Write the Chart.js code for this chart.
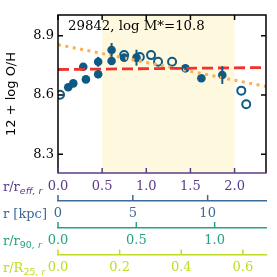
<!DOCTYPE html>
<html>
<head>
<meta charset="utf-8">
<script src="https://cdn.jsdelivr.net/npm/chart.js@4.4.0/dist/chart.umd.min.js"></script>
<style>
html, body { margin: 0; padding: 0; background: #fff; }
#wrap { width: 277px; height: 277px; }
</style>
</head>
<body>
<div id="wrap"><canvas id="myChart" width="277" height="277"></canvas></div>
<script>
// данные профиля
const filledR   = [0.116, 0.173, 0.286, 0.316, 0.455, 0.455, 0.607, 0.607, 0.749, 0.889, 1.443, 1.624, 1.861];
const filledOH  = [8.639, 8.659, 8.743, 8.679, 8.768, 8.705, 8.828, 8.772, 8.789, 8.789, 8.735, 8.685, 8.701];
const filledErr = [0.008, 0.008, 0.008, 0.008, 0.025, 0.02, 0.035, 0.02, 0.015, 0.04, 0.008, 0.015, 0.045];
const openR  = [0.023, 0.749, 0.927, 1.054, 1.133, 1.292, 2.076, 2.132];
const openOH = [8.601, 8.802, 8.792, 8.802, 8.768, 8.768, 8.622, 8.553];
const fitR    = [0, 2.356];
const fitFlat = [8.729, 8.739];
const fitGrad = [8.855, 8.643];
const fitRange = [0.5, 2.0];

const yTicks   = [8.3, 8.6, 8.9];
const effTicks = [0, 0.5, 1.0, 1.5, 2.0];
const kpcTicks = [0, 5, 10];
const r90Ticks = [0, 0.5, 1.0];
const r25Ticks = [0, 0.2, 0.4, 0.6];

const title = '29842, log M*=10.8';

const serif = "'DejaVu Serif', serif";
const sans = "'DejaVu Sans', sans-serif";
const cPurple = '#5b3b8c', cBlue = '#3e6a97', cTeal = '#26a383', cLime = '#c0dc26';
const cMark = '#0e5a84';

function bottomAxis(min, max, ticks, color, fmt, h, pad, weight) {
    return {
        type: 'linear', position: 'bottom', min: min, max: max, weight: weight,
        afterBuildTicks: s => { s.ticks = ticks.map(v => ({value: v})); },
        afterFit: s => { s.height = h; },
        grid: { display: false, drawTicks: false, tickLength: 0 },
        border: { display: weight > 0, color: color, width: 1.5 },
        ticks: { color: color, font: {family: serif, size: 13}, padding: pad,
                 maxRotation: 0, autoSkip: false, callback: fmt }
    };
}
const f1 = v => Number(v).toFixed(1);
const f0 = v => Number(v).toFixed(0);

//region плагин: подсветка, ошибки, рамка, подписи осей
const decor = {
    id: 'decor',
    beforeDatasetsDraw(chart) {
        const {ctx, chartArea: a, scales: {x}} = chart;
        const x0 = x.getPixelForValue(fitRange[0]), x1 = x.getPixelForValue(fitRange[1]);
        ctx.save();
        ctx.fillStyle = '#fef8df';
        ctx.fillRect(x0, a.top, x1 - x0, a.bottom - a.top);
        ctx.restore();
    },
    afterDatasetsDraw(chart) {
        const {ctx, scales: {x, y}} = chart;
        ctx.save();
        ctx.strokeStyle = cMark;
        ctx.lineWidth = 2;
        filledR.forEach((r, i) => {
            const px = x.getPixelForValue(r);
            ctx.beginPath();
            ctx.moveTo(px, y.getPixelForValue(filledOH[i] - filledErr[i]));
            ctx.lineTo(px, y.getPixelForValue(filledOH[i] + filledErr[i]));
            ctx.stroke();
        });
        ctx.restore();
    },
    afterDraw(chart) {
        const {ctx, chartArea: a, scales} = chart;
        const {x, y} = scales;
        ctx.save();
        ctx.lineWidth = 1.5;
        // рамка
        ctx.strokeStyle = '#000';
        ctx.beginPath();
        ctx.moveTo(a.left, a.bottom); ctx.lineTo(a.left, a.top);
        ctx.lineTo(a.right, a.top); ctx.lineTo(a.right, a.bottom);
        ctx.stroke();
        ctx.strokeStyle = cPurple;
        ctx.beginPath(); ctx.moveTo(a.left - 0.75, a.bottom); ctx.lineTo(a.right + 0.75, a.bottom); ctx.stroke();
        // засечки внутрь
        effTicks.forEach(v => {
            const px = x.getPixelForValue(v);
            ctx.strokeStyle = cPurple;
            ctx.beginPath(); ctx.moveTo(px, a.bottom); ctx.lineTo(px, a.bottom - 5); ctx.stroke();
            ctx.strokeStyle = '#000';
            ctx.beginPath(); ctx.moveTo(px, a.top); ctx.lineTo(px, a.top + 5); ctx.stroke();
        });
        ctx.strokeStyle = '#000';
        yTicks.forEach(v => {
            const py = y.getPixelForValue(v);
            ctx.beginPath(); ctx.moveTo(a.left, py); ctx.lineTo(a.left + 5, py); ctx.stroke();
            ctx.beginPath(); ctx.moveTo(a.right, py); ctx.lineTo(a.right - 5, py); ctx.stroke();
        });
        // засечки дополнительных осей
        [['x2', kpcTicks, cBlue], ['x3', r90Ticks, cTeal], ['x4', r25Ticks, cLime]].forEach(([id, tk, col]) => {
            const s = scales[id];
            ctx.strokeStyle = col;
            tk.forEach(v => {
                const px = s.getPixelForValue(v);
                ctx.beginPath(); ctx.moveTo(px, s.top); ctx.lineTo(px, s.top - 5.5); ctx.stroke();
            });
        });
        // подписи осей слева
        const rows = [
            [x, cPurple, [['r/r', '13px ' + serif, 0], ['eff, r', 'italic 9.5px ' + sans, 3]]],
            [scales.x2, cBlue, [['r [kpc]', '13px ' + serif, 0]]],
            [scales.x3, cTeal, [['r/r', '13px ' + serif, 0], ['90', '9.5px ' + sans, 3], [', r', 'italic 9.5px ' + sans, 3]]],
            [scales.x4, cLime, [['r/R', '13px ' + serif, 0], ['25', '9.5px ' + sans, 3], [', r', 'italic 9.5px ' + sans, 3]]]
        ];
        ctx.textBaseline = 'alphabetic';
        ctx.textAlign = 'left';
        rows.forEach(([s, col, parts], i) => {
            let px = 3;
            const base = s.top + (i === 0 ? 18 : 17);
            ctx.fillStyle = col;
            parts.forEach(([t, font, dy]) => {
                ctx.font = font;
                ctx.fillText(t, px, base + dy);
                px += ctx.measureText(t).width;
            });
        });
        // заголовок
        ctx.fillStyle = '#000';
        ctx.font = '13.3px ' + serif;
        ctx.textBaseline = 'middle';
        ctx.fillText(title, 68, 27);
        ctx.restore();
    }
};
//endregion

const ctx = document.getElementById('myChart');
const chart = new Chart(ctx, {
    type: 'scatter',
    data: {
        datasets: [{
            data: fitR.map((r, i) => ({x: r, y: fitFlat[i]})),
            showLine: true, borderColor: '#f0332a', borderWidth: 2.8, borderDash: [11, 5],
            pointRadius: 0
        }, {
            data: fitR.map((r, i) => ({x: r, y: fitGrad[i]})),
            showLine: true, borderColor: '#fdae53', borderWidth: 3, borderDash: [3, 4.5],
            pointRadius: 0
        }, {
            data: openR.map((r, i) => ({x: r, y: openOH[i]})),
            pointRadius: 4, borderWidth: 2, borderColor: cMark, backgroundColor: 'rgba(0,0,0,0)'
        }, {
            data: filledR.map((r, i) => ({x: r, y: filledOH[i]})),
            pointRadius: 4.3, borderWidth: 0, backgroundColor: cMark
        }]
    },
    options: {
        responsive: false,
        animation: false,
        layout: { padding: { top: 15, right: 11, left: 0, bottom: 0 } },
        plugins: { legend: { display: false }, tooltip: { enabled: false } },
        scales: {
            x: bottomAxis(0, 2.356, effTicks, cPurple, f1, 27.5, 6, 0),
            x2: bottomAxis(0, 13.9, kpcTicks, cBlue, f0, 27, 5, 1),
            x3: bottomAxis(0, 1.328, r90Ticks, cTeal, f1, 27.5, 5, 2),
            x4: bottomAxis(0, 0.675, r25Ticks, cLime, f1, 22, 5, 3),
            y: {
                min: 8.205, max: 9.005,
                afterBuildTicks: s => { s.ticks = yTicks.map(v => ({value: v})); },
                afterFit: s => { s.width = 58; },
                grid: { display: false, drawTicks: false, tickLength: 0 },
                border: { display: false },
                ticks: { color: '#000', font: {family: serif, size: 13}, padding: 4, callback: f1 },
                title: { display: true, text: '12 + log O/H', color: '#000',
                         font: {family: sans, size: 13}, padding: {top: 4, bottom: 0} }
            }
        }
    },
    plugins: [decor]
});
</script>
</body>
</html>
